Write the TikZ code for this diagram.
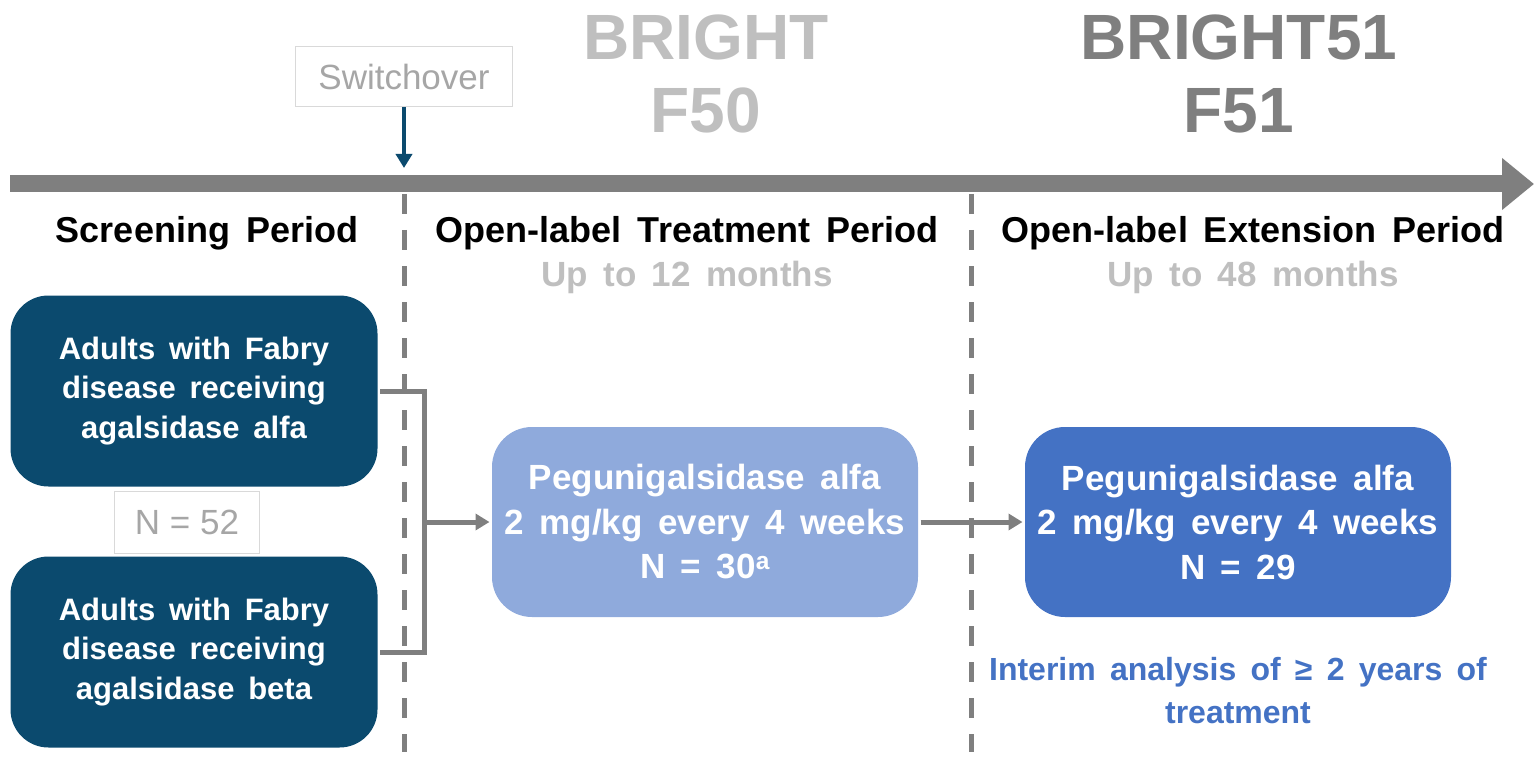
\documentclass[tikz,border=0pt]{standalone}
\usepackage{fontspec}
\setmainfont[BoldFeatures={WordSpace=1.6}]{Liberation Sans}
\usetikzlibrary{arrows.meta,positioning}

\definecolor{navy}{HTML}{0B4A6E}
\definecolor{paleblue}{HTML}{8FAADC}
\definecolor{midblue}{HTML}{4472C4}
\definecolor{linegray}{HTML}{7F7F7F}
\definecolor{softgray}{HTML}{BFBFBF}
\definecolor{taggray}{HTML}{A6A6A6}
\definecolor{framegray}{HTML}{D9D9D9}

\begin{document}
\begin{tikzpicture}[
        x = 1pt, y = -1pt, % pixel-like units, y going down
        > = {Triangle[length=14pt,width=16pt]}, % arrow head style
        line width = 5pt, % line style
        draw = linegray,
        node distance = 261pt % distance between nodes
      ]

      \tikzstyle{group}=[rectangle, rounded corners=38pt, fill=navy, text=white,
        minimum width=367pt, minimum height=191pt, align=center,
        font=\bfseries\fontsize{31}{39.5}\selectfont]
      \tikzstyle{dose}=[rectangle, rounded corners=40pt, text=white,
        minimum width=426pt, minimum height=190pt, align=center,
        font=\bfseries\fontsize{35}{44.5}\selectfont]
      \tikzstyle{tag}=[rectangle, draw=framegray, line width=1pt, text=taggray,
        font=\fontsize{35}{40}\selectfont]
      \tikzstyle{period}=[anchor=base, font=\bfseries\fontsize{36}{40}\selectfont]
      \tikzstyle{span}=[anchor=base, text=softgray, font=\bfseries\fontsize{35}{40}\selectfont]
      \tikzstyle{study}=[anchor=base, font=\bfseries\fontsize{64}{70}\selectfont]

      \useasboundingbox (0,0) rectangle (1534,770);

      % study names
      \node[study, text=softgray] (bright) at (706,60) {BRIGHT};
      \node[study, text=softgray] (f50) at (706,133) {F50};
      \node[study, text=linegray] (bright51) at (1239,60) {BRIGHT51};
      \node[study, text=linegray] (f51) at (1239,133) {F51};

      % timeline
      \coordinate (start) at (10,184);
      \coordinate (end) at (1534,184);
      \draw[line width=17pt, -{Triangle[length=32pt,width=50pt]}] (start) -- (end);

      % switchover
      \node[tag, minimum width=217pt, minimum height=60pt] (switch) at (404,77) {Switchover};
      \coordinate (switchend) at (404,168);
      \draw[->, draw=navy, line width=4pt] (switch) -- (switchend);

      % period borders
      \draw[dash pattern=on 20pt off 16pt] (404,194) -- (404,752);
      \draw[dash pattern=on 20pt off 16pt] (971,194) -- (971,752);

      % periods
      \node[period] (screen) at (207,243) {Screening Period};
      \node[period] (treat) at (687,243) {Open-label Treatment Period};
      \node[period] (extend) at (1253,243) {Open-label Extension Period};
      \node[span] (treatlen) at (687,286) {Up to 12 months};
      \node[span] (extendlen) at (1253,286) {Up to 48 months};

      % patients
      \node[group] (alfa) at (194,391) {Adults with Fabry\\disease receiving\\agalsidase alfa};
      \node[group] (beta) [below of=alfa] {Adults with Fabry\\disease receiving\\agalsidase beta};
      \node[tag, minimum width=145pt, minimum height=62pt] (total) at (187,522) {N = 52};

      % treatment
      \node[dose, fill=paleblue] (trt) at (705,522) {Pegunigalsidase alfa\\2 mg/kg every 4 weeks\\N = 30\textsuperscript{a}};
      \node[dose, fill=midblue] (ext) [right of=trt, node distance=533pt] {Pegunigalsidase alfa\\2 mg/kg every 4 weeks\\N = 29};
      \node[align=center, text=midblue, font=\bfseries\fontsize{32}{43}\selectfont] (interim)
        [below=32pt of ext] {Interim analysis of ≥ 2 years of\\treatment};

      % flow
      \coordinate (join) at (424,522);
      \draw (alfa.east) -| (join) |- (beta.east);
      \draw[->] (join) -- (trt.west);
      \draw[->] (trt.east) -- (ext.west);

    \end{tikzpicture}
\end{document}
